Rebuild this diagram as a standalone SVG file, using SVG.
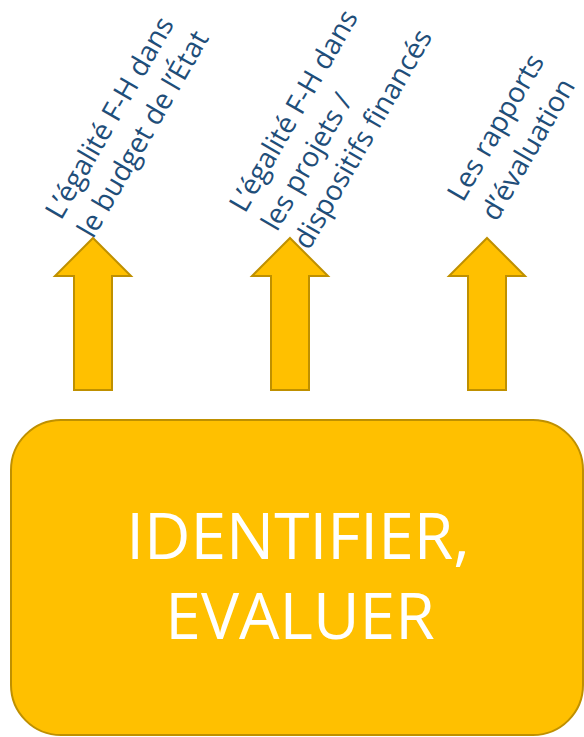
<svg xmlns="http://www.w3.org/2000/svg" width="584" height="737" viewBox="0 0 584 737">
<defs>
<style>
.arrow{fill:#FFC000;stroke:#BF9000;stroke-width:2;stroke-linejoin:miter}
.box{fill:#FFC000;stroke:#BF9000;stroke-width:2}
.lbl{font-family:"Open Sans","Liberation Sans",sans-serif;font-size:28px;fill:#1F4E79}
.main{font-family:"Open Sans","Liberation Sans",sans-serif;font-size:64px;fill:#FFFFFF;text-anchor:middle}
</style>
<path id="up" d="M0,0 L38,38 L19,38 L19,152 L-19,152 L-19,38 L-38,38 Z"/>
</defs>
<g id="connectors">
<use href="#up" class="arrow" transform="translate(93,238)"/>
<use href="#up" class="arrow" transform="translate(290,238)"/>
<use href="#up" class="arrow" transform="translate(487,238)"/>
</g>
<g id="label1">
<text class="lbl" transform="translate(61,221) rotate(-60)"><tspan x="0" y="0">L’égalité F-H dans</tspan><tspan x="0" y="37">le budget de l’État</tspan></text>
</g>
<g id="label2">
<text class="lbl" transform="translate(245,214) rotate(-60)"><tspan x="0" y="0">L’égalité F-H dans</tspan><tspan x="0" y="37">les projets /</tspan><tspan x="0" y="74">dispositifs financés</tspan></text>
</g>
<g id="label3">
<text class="lbl" transform="translate(463,203) rotate(-60)"><tspan x="0" y="0">Les rapports</tspan><tspan x="0" y="39">d’évaluation</tspan></text>
</g>
<g id="main">
<rect class="box" x="11" y="420" width="572" height="315" rx="50" ry="50"/>
<text class="main"><tspan x="298" y="559">IDENTIFIER,</tspan><tspan x="300" y="639">EVALUER</tspan></text>
</g>
</svg>
